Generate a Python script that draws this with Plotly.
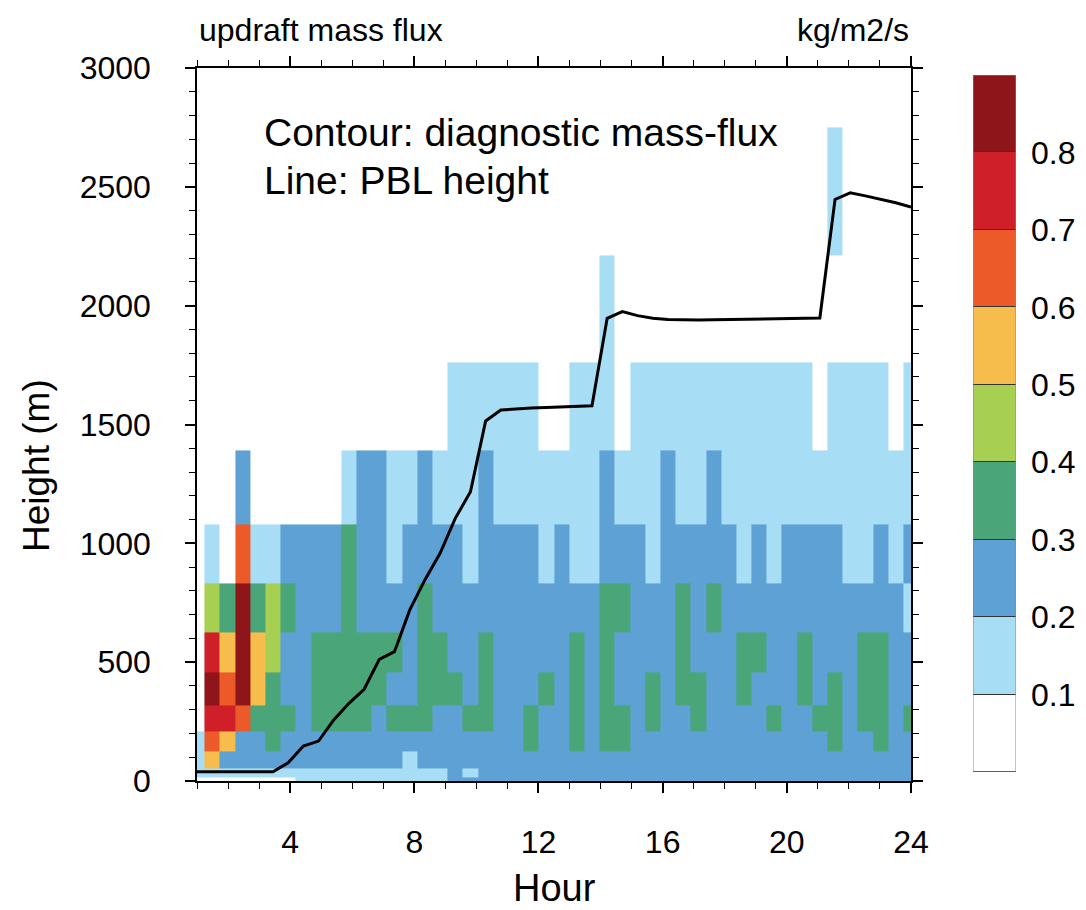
import numpy as np
import plotly.graph_objects as go

# ---------------- data ----------------
# output times (hours), 48 evenly spaced outputs from hour 1 to hour 24
hours = np.linspace(1, 24, 48)

# model level boundaries (m) for the mass-flux cells
level_edges = [0, 15, 55, 125, 210, 320, 456, 627, 832, 1081, 1393, 1763, 2210, 2750]

# updraft mass flux (kg/m2/s) per level, bottom level first, 48 times each
mf_l00 = [0.05,0.05,0.05,0.05,0.05,0.05,0.05,0.15,0.15,0.15,0.15,0.15,0.15,0.15,0.15,0.15,0.15,0.25,0.25,0.25,0.25,0.25,0.25,0.25,0.25,0.25,0.25,0.25,0.25,0.25,0.25,0.25,0.25,0.25,0.25,0.25,0.25,0.25,0.25,0.25,0.25,0.25,0.25,0.25,0.25,0.25,0.25,0.25]
mf_l01 = [0.15,0.15,0.15,0.15,0.15,0.15,0.15,0.15,0.15,0.15,0.15,0.15,0.15,0.15,0.15,0.15,0.15,0.25,0.15,0.25,0.25,0.25,0.25,0.25,0.25,0.25,0.25,0.25,0.25,0.25,0.25,0.25,0.25,0.25,0.25,0.25,0.25,0.25,0.25,0.25,0.25,0.25,0.25,0.25,0.25,0.25,0.25,0.25]
mf_l02 = [0.15,0.55,0.25,0.25,0.25,0.25,0.25,0.25,0.25,0.25,0.25,0.25,0.25,0.25,0.15,0.25,0.25,0.25,0.25,0.25,0.25,0.25,0.25,0.25,0.25,0.25,0.25,0.25,0.25,0.25,0.25,0.25,0.25,0.25,0.25,0.25,0.25,0.25,0.25,0.25,0.25,0.25,0.25,0.25,0.25,0.25,0.25,0.25]
mf_l03 = [0.15,0.65,0.55,0.25,0.25,0.35,0.25,0.25,0.25,0.25,0.25,0.25,0.25,0.25,0.25,0.25,0.25,0.25,0.25,0.25,0.25,0.25,0.35,0.25,0.25,0.35,0.25,0.35,0.35,0.25,0.25,0.25,0.25,0.25,0.25,0.25,0.25,0.25,0.25,0.25,0.25,0.25,0.35,0.25,0.25,0.35,0.25,0.25]
mf_l04 = [0.05,0.75,0.75,0.65,0.35,0.35,0.35,0.25,0.35,0.35,0.35,0.35,0.25,0.35,0.35,0.35,0.25,0.25,0.35,0.35,0.25,0.25,0.35,0.25,0.25,0.35,0.25,0.35,0.35,0.25,0.35,0.25,0.25,0.35,0.25,0.25,0.25,0.25,0.35,0.25,0.25,0.35,0.35,0.25,0.35,0.35,0.25,0.35]
mf_l05 = [0.05,0.85,0.65,0.85,0.55,0.35,0.25,0.25,0.35,0.35,0.35,0.35,0.35,0.25,0.25,0.35,0.35,0.35,0.25,0.35,0.25,0.25,0.25,0.35,0.25,0.35,0.25,0.35,0.25,0.25,0.35,0.25,0.35,0.35,0.25,0.25,0.35,0.25,0.25,0.25,0.35,0.25,0.35,0.25,0.35,0.35,0.25,0.25]
mf_l06 = [0.05,0.75,0.55,0.85,0.55,0.45,0.25,0.25,0.35,0.35,0.35,0.35,0.35,0.35,0.25,0.35,0.35,0.25,0.25,0.35,0.25,0.25,0.25,0.25,0.25,0.35,0.25,0.35,0.25,0.25,0.25,0.25,0.35,0.25,0.25,0.25,0.35,0.35,0.25,0.25,0.35,0.25,0.25,0.25,0.35,0.35,0.25,0.25]
mf_l07 = [0.05,0.45,0.35,0.85,0.35,0.45,0.35,0.25,0.25,0.25,0.35,0.25,0.25,0.25,0.25,0.35,0.25,0.25,0.25,0.25,0.25,0.25,0.25,0.25,0.25,0.25,0.25,0.35,0.35,0.25,0.25,0.25,0.35,0.25,0.35,0.25,0.25,0.25,0.25,0.25,0.25,0.25,0.25,0.25,0.25,0.25,0.25,0.15]
mf_l08 = [0.05,0.15,0.05,0.65,0.15,0.15,0.25,0.25,0.25,0.25,0.35,0.25,0.25,0.15,0.25,0.25,0.25,0.25,0.15,0.25,0.25,0.25,0.25,0.15,0.25,0.15,0.15,0.25,0.25,0.25,0.15,0.25,0.25,0.25,0.25,0.25,0.15,0.25,0.15,0.25,0.25,0.25,0.25,0.15,0.15,0.25,0.15,0.25]
mf_l09 = [0.05,0.05,0.05,0.25,0.05,0.05,0.05,0.05,0.05,0.05,0.15,0.25,0.25,0.15,0.15,0.25,0.15,0.15,0.15,0.25,0.15,0.15,0.15,0.15,0.15,0.15,0.15,0.25,0.15,0.15,0.15,0.25,0.15,0.15,0.25,0.15,0.15,0.15,0.15,0.15,0.15,0.15,0.15,0.15,0.15,0.15,0.15,0.15]
mf_l10 = [0.05,0.05,0.05,0.05,0.05,0.05,0.05,0.05,0.05,0.05,0.05,0.05,0.05,0.05,0.05,0.05,0.05,0.15,0.15,0.15,0.15,0.15,0.15,0.05,0.05,0.15,0.15,0.15,0.05,0.15,0.15,0.15,0.15,0.15,0.15,0.15,0.15,0.15,0.15,0.15,0.15,0.05,0.15,0.15,0.15,0.15,0.05,0.15]
mf_l11 = [0.05,0.05,0.05,0.05,0.05,0.05,0.05,0.05,0.05,0.05,0.05,0.05,0.05,0.05,0.05,0.05,0.05,0.05,0.05,0.05,0.05,0.05,0.05,0.05,0.05,0.05,0.05,0.15,0.05,0.05,0.05,0.05,0.05,0.05,0.05,0.05,0.05,0.05,0.05,0.05,0.05,0.05,0.05,0.05,0.05,0.05,0.05,0.05]
mf_l12 = [0.05,0.05,0.05,0.05,0.05,0.05,0.05,0.05,0.05,0.05,0.05,0.05,0.05,0.05,0.05,0.05,0.05,0.05,0.05,0.05,0.05,0.05,0.05,0.05,0.05,0.05,0.05,0.05,0.05,0.05,0.05,0.05,0.05,0.05,0.05,0.05,0.05,0.05,0.05,0.05,0.05,0.05,0.15,0.05,0.05,0.05,0.05,0.05]

# PBL height (m) at each output time
pbl_height = [39, 39, 39, 39, 39, 39, 77, 147, 168, 257, 327, 386, 512, 544, 719, 846,
              958, 1105, 1217, 1515, 1561, 1566, 1569, 1572, 1574, 1576, 1579, 1947, 1975, 1958,
              1947, 1942, 1940, 1940, 1941, 1942, 1943, 1944, 1945, 1946, 1947, 1948, 2447, 2475,
              2462, 2448, 2433, 2415]

# colour levels (band edges) and band colours
band_edges = [0.0, 0.1, 0.2, 0.3, 0.4, 0.5, 0.6, 0.7, 0.8, 0.9]
level_ticks = [0.1, 0.2, 0.3, 0.4, 0.5, 0.6, 0.7, 0.8]
band_colors = ["#FFFFFF", "#A8DEF5", "#5EA1D4", "#4AA679", "#A7CF52",
               "#F6BC4C", "#EC5A2A", "#CF2029", "#8E1519"]
x_ticks = [4, 8, 12, 16, 20, 24]
y_ticks = [0, 500, 1000, 1500, 2000, 2500, 3000]

# ---------------- figure ----------------
z = [mf_l00, mf_l01, mf_l02, mf_l03, mf_l04, mf_l05, mf_l06,
     mf_l07, mf_l08, mf_l09, mf_l10, mf_l11, mf_l12]

dt = hours[1] - hours[0]
x_edges = np.concatenate([[hours[0] - dt / 2], (hours[:-1] + hours[1:]) / 2, [hours[-1] + dt / 2]])

nb = len(band_colors)
zmin, zmax = band_edges[0], band_edges[-1]
cscale = []
for i, c in enumerate(band_colors):
    cscale.append([i / nb, c])
    cscale.append([(i + 1) / nb, c])

W, H = 1086, 910
L, R, T, B = 197, 10, 68, 129
pw, ph = W - L - R, H - T - B

def px_x(px):
    return (px - L) / pw

def px_y(py):
    return (H - B - py) / ph

plot_right = 911
cb_top, cb_bottom, cb_left, cb_right = 75, 772, 973, 1016

font_fam = "Liberation Sans, Arial, sans-serif"

fig = go.Figure()
fig.add_trace(go.Heatmap(
    x=x_edges, y=level_edges, z=z,
    zmin=zmin, zmax=zmax, colorscale=cscale, zsmooth=False,
    hoverinfo="skip", showscale=False, xaxis="x", yaxis="y",
))
fig.add_trace(go.Scatter(
    x=hours, y=pbl_height, mode="lines", xaxis="x", yaxis="y",
    line=dict(color="black", width=3), hoverinfo="skip", showlegend=False,
))
# label bar (one box per colour band)
band_mid = [(a + b) / 2 for a, b in zip(band_edges[:-1], band_edges[1:])]
fig.add_trace(go.Heatmap(
    x=[0, 1], y=band_edges, z=[[v] for v in band_mid],
    zmin=zmin, zmax=zmax, colorscale=cscale, zsmooth=False, ygap=1,
    hoverinfo="skip", showscale=False, xaxis="x2", yaxis="y2",
))

shapes = [
    dict(type="rect", xref="x2", yref="y2", x0=0, x1=1, y0=zmin, y1=zmax,
         fillcolor="#333333", line=dict(width=0), layer="below"),
    dict(type="rect", xref="x2", yref="y2", x0=0, x1=1, y0=zmin, y1=zmax,
         fillcolor="rgba(0,0,0,0)", line=dict(color="#888888", width=1), layer="above"),
]

annotations = [
    dict(text="updraft mass flux", x=0, y=px_y(30), xref="paper", yref="paper",
         xanchor="left", yanchor="middle", showarrow=False, font=dict(size=32)),
    dict(text="kg/m2/s", x=px_x(plot_right), y=px_y(30), xref="paper", yref="paper",
         xanchor="right", yanchor="middle", showarrow=False, font=dict(size=32)),
    dict(text="Contour: diagnostic mass-flux", x=px_x(262), y=px_y(132), xref="paper", yref="paper",
         xanchor="left", yanchor="middle", showarrow=False, font=dict(size=39)),
    dict(text="Line: PBL height", x=px_x(262), y=px_y(180), xref="paper", yref="paper",
         xanchor="left", yanchor="middle", showarrow=False, font=dict(size=39)),
    dict(text="Height (m)", x=px_x(37), y=px_y(466), xref="paper", yref="paper",
         xanchor="center", yanchor="middle", textangle=-90, showarrow=False, font=dict(size=37)),
    dict(text="Hour", x=px_x((L + plot_right) / 2), y=px_y(888), xref="paper", yref="paper",
         xanchor="center", yanchor="middle", showarrow=False, font=dict(size=38)),
]

axis_common = dict(
    ticks="outside", ticklen=10, tickwidth=1.5, tickcolor="black",
    showline=True, linecolor="black", linewidth=1.5, mirror="ticks",
    showgrid=False, zeroline=False,
    tickfont=dict(size=32, color="black", family=font_fam),
)

fig.update_layout(
    width=W, height=H,
    margin=dict(l=L, r=R, t=T, b=B, autoexpand=False),
    paper_bgcolor="white", plot_bgcolor="white",
    font=dict(family=font_fam, color="black"),
    showlegend=False,
    xaxis=dict(domain=[0, px_x(plot_right)], range=[1, 24], tickvals=x_ticks,
               minor=dict(dtick=1, tick0=0, ticks="outside", ticklen=6, tickwidth=1, tickcolor="black"),
               ticklabelstandoff=22, anchor="y", **axis_common),
    yaxis=dict(domain=[0, 1], range=[0, 3000], tickvals=y_ticks,
               minor=dict(dtick=100, tick0=0, ticks="outside", ticklen=6, tickwidth=1, tickcolor="black"),
               ticklabelstandoff=28, anchor="x", **axis_common),
    xaxis2=dict(domain=[px_x(cb_left), px_x(cb_right)], range=[0, 1], anchor="y2",
                visible=False, fixedrange=True),
    yaxis2=dict(domain=[px_y(cb_bottom), px_y(cb_top)], range=[zmin, zmax], anchor="x2",
                side="right", tickvals=level_ticks, ticktext=[f"{v:.1f}" for v in level_ticks],
                ticks="", showline=False, showgrid=False, zeroline=False,
                ticklabelstandoff=14, fixedrange=True,
                tickfont=dict(size=32, color="black", family=font_fam)),
    shapes=shapes,
    annotations=annotations,
)

fig.write_html("out.html")
